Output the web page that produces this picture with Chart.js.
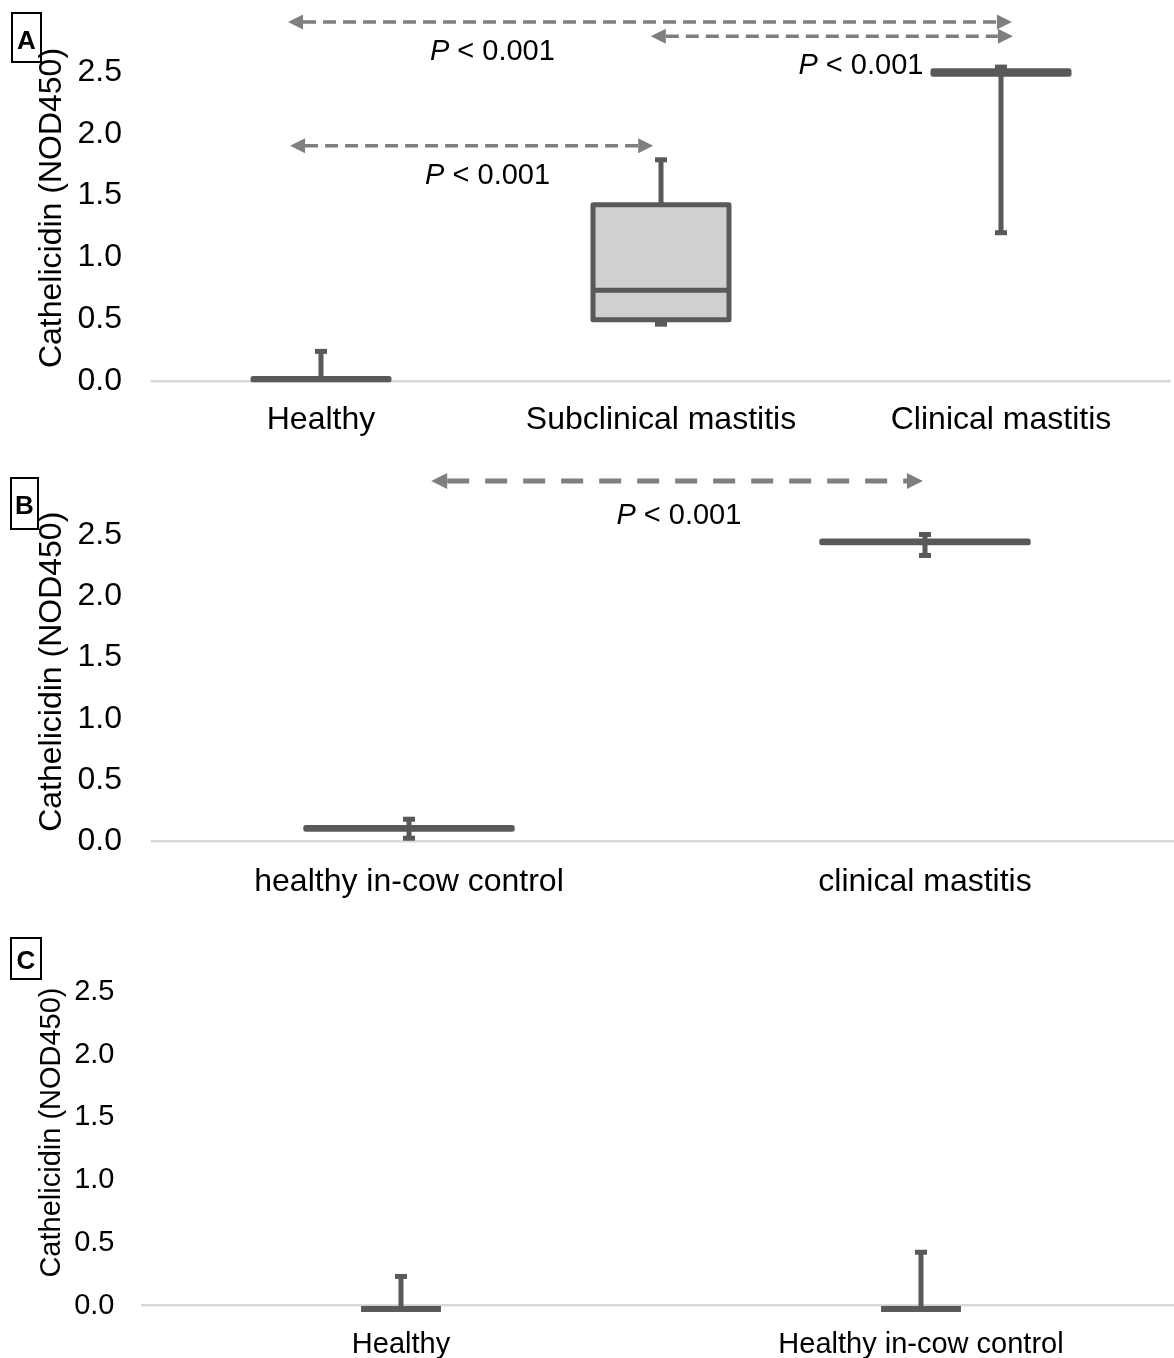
<!DOCTYPE html>
<html>
<head>
<meta charset="utf-8">
<title>Cathelicidin box plots</title>
<script src="https://cdn.jsdelivr.net/npm/chart.js@4.4.0/dist/chart.umd.min.js"></script>
<style>
  html, body { margin: 0; padding: 0; background: #fff; overflow: hidden; width: 1174px; height: 1358px; }
  canvas { position: absolute; left: 0; }
  .tag {
    position: absolute; box-sizing: border-box; border: 2px solid #000;
    font: bold 26px "Liberation Sans", Arial, sans-serif; line-height: 26px;
    text-align: center; color: #000;
  }
</style>
</head>
<body>
<canvas id="chartA" style="top:0"></canvas>
<canvas id="chartB" style="top:450px"></canvas>
<canvas id="chartC" style="top:910px"></canvas>

<div class="tag" style="left:11px; top:12px; width:31px; height:51px; padding-top:13px;">A</div>
<div class="tag" style="left:10px; top:477px; width:29px; height:53px; padding-top:13px;">B</div>
<div class="tag" style="left:10px; top:937px; width:32px; height:43px; padding-top:8px;">C</div>

<script>
// ---- panel A: healthy vs subclinical vs clinical quarters ----
const groupsA = ['Healthy', 'Subclinical mastitis', 'Clinical mastitis'];
const lowA    = [0.01, 0.46, 1.20];
const q1A     = [0.01, 0.495, 2.483];
const medianA = [0.015, 0.734, 2.496];
const q3A     = [0.02, 1.426, 2.51];
const highA   = [0.24, 1.79, 2.54];

// ---- panel B: in-cow control vs clinical mastitis ----
const groupsB = ['healthy in-cow control', 'clinical mastitis'];
const lowB    = [0.028, 2.333];
const q1B     = [0.102, 2.437];
const medianB = [0.109, 2.444];
const q3B     = [0.116, 2.451];
const highB   = [0.183, 2.504];

// ---- panel C: healthy vs in-cow control ----
const groupsC = ['Healthy', 'Healthy in-cow control'];
const lowC    = [-0.032, -0.032];
const q1C     = [-0.032, -0.032];
const medianC = [-0.026, -0.026];
const q3C     = [-0.02, -0.02];
const highC   = [0.233, 0.426];

const yTicks = { min: 0, max: 2.5, step: 0.5 };
const pValue = '< 0.001';
const yTitle = 'Cathelicidin (NOD450)';

const FONT = '"Liberation Sans", Arial, sans-serif';
const LINE = '#595959';

// box outlines, medians and whiskers drawn on top of the filled bars
const boxPlugin = {
  id: 'boxes',
  afterDatasetsDraw(chart) {
    const s = chart.options.plugins.boxes;
    const y = chart.scales.y;
    const ctx = chart.ctx;
    ctx.save();
    ctx.strokeStyle = LINE;
    ctx.fillStyle = LINE;
    chart.getDatasetMeta(0).data.forEach((bar, i) => {
      const top = y.getPixelForValue(s.q3[i]);
      const bot = y.getPixelForValue(s.q1[i]);
      const mid = y.getPixelForValue(s.median[i]);
      const hi = y.getPixelForValue(s.high[i]);
      const lo = y.getPixelForValue(s.low[i]);
      const half = bar.width / 2;

      ctx.lineWidth = 5;
      ctx.lineCap = 'butt';
      ctx.beginPath();
      if (s.high[i] > s.q3[i]) { ctx.moveTo(bar.x, top); ctx.lineTo(bar.x, hi); }
      if (s.low[i] < s.q1[i]) { ctx.moveTo(bar.x, bot); ctx.lineTo(bar.x, lo); }
      ctx.stroke();
      if (s.high[i] > s.q3[i]) ctx.fillRect(bar.x - 6, hi - 2.5, 12, 5);
      if (s.low[i] < s.q1[i]) ctx.fillRect(bar.x - 6, lo - 2.5, 12, 5);

      ctx.lineWidth = s.lineWidth;
      ctx.lineJoin = s.join;
      ctx.strokeRect(bar.x - half, top, bar.width, bot - top);
      ctx.beginPath();
      ctx.moveTo(bar.x - half, mid);
      ctx.lineTo(bar.x + half, mid);
      ctx.stroke();
    });
    ctx.restore();
  }
};

// dashed double-headed comparison arrows with their P labels
const bracketPlugin = {
  id: 'brackets',
  afterDraw(chart) {
    const s = chart.options.plugins.brackets;
    if (!s.arrows) return;
    const { ctx } = chart;
    const x = chart.scales.x, y = chart.scales.y;
    ctx.save();
    ctx.strokeStyle = '#7f7f7f';
    ctx.fillStyle = '#7f7f7f';
    ctx.lineWidth = s.width;
    s.arrows.forEach(a => {
      const x1 = x.getPixelForValue(a.from), x2 = x.getPixelForValue(a.to);
      const py = y.getPixelForValue(a.level);
      ctx.setLineDash(s.dash);
      ctx.beginPath();
      ctx.moveTo(x1 + s.head, py);
      ctx.lineTo(x2 - s.head, py);
      ctx.stroke();
      ctx.setLineDash([]);
      ctx.beginPath();
      ctx.moveTo(x1, py); ctx.lineTo(x1 + s.head, py - s.headHalf); ctx.lineTo(x1 + s.head, py + s.headHalf);
      ctx.closePath();
      ctx.moveTo(x2, py); ctx.lineTo(x2 - s.head, py - s.headHalf); ctx.lineTo(x2 - s.head, py + s.headHalf);
      ctx.closePath();
      ctx.fill();
    });
    ctx.fillStyle = '#000';
    ctx.textBaseline = 'middle';
    ctx.textAlign = 'left';
    s.labels.forEach(l => {
      const cx = x.getPixelForValue(l.at), cy = y.getPixelForValue(l.level);
      ctx.font = 'italic ' + s.fontSize + 'px ' + FONT;
      const wP = ctx.measureText('P').width;
      ctx.font = s.fontSize + 'px ' + FONT;
      const rest = ' ' + pValue;
      const wR = ctx.measureText(rest).width;
      const x0 = cx - (wP + wR) / 2;
      ctx.font = 'italic ' + s.fontSize + 'px ' + FONT;
      ctx.fillText('P', x0, cy);
      ctx.font = s.fontSize + 'px ' + FONT;
      ctx.fillText(rest, x0 + wP, cy);
    });
    ctx.restore();
  }
};

function makeChart(id, p) {
  const canvas = document.getElementById(id);
  canvas.width = p.w;
  canvas.height = p.h;
  const font = { family: FONT, size: p.fontSize };
  return new Chart(canvas, {
    type: 'bar',
    data: {
      labels: p.labels,
      datasets: [{
        data: p.q1.map((v, i) => [v, p.q3[i]]),
        backgroundColor: p.fill,
        borderWidth: 0,
        barPercentage: p.barPct,
        categoryPercentage: 1
      }]
    },
    options: {
      responsive: false,
      animation: false,
      layout: { padding: { top: p.padTop, right: 3, bottom: 0, left: 0 } },
      plugins: {
        legend: { display: false },
        tooltip: { enabled: false },
        boxes: { q1: p.q1, q3: p.q3, median: p.median, low: p.low, high: p.high, lineWidth: p.boxLine, join: p.join },
        brackets: p.brackets || {}
      },
      scales: {
        x: {
          grid: { display: false, drawTicks: false },
          border: { display: false },
          ticks: { color: '#000', font: font, padding: p.xPad, maxRotation: 0, autoSkip: false },
          afterFit(scale) { scale.height = p.xHeight; }
        },
        y: {
          min: p.min,
          max: p.max,
          grid: {
            color: c => (c.tick && c.tick.value === 0 ? '#d9d9d9' : 'rgba(0,0,0,0)'),
            lineWidth: 2.5,
            drawTicks: false,
            tickLength: 0
          },
          border: { display: false },
          ticks: {
            stepSize: yTicks.step,
            includeBounds: false,
            color: '#000',
            font: font,
            padding: p.yPad,
            callback: v => (v >= yTicks.min && v <= yTicks.max ? v.toFixed(1) : '')
          },
          title: {
            display: true,
            text: yTitle,
            color: '#000',
            font: font,
            padding: { top: p.titlePad, bottom: 0 }
          },
          afterFit(scale) {
            // fixed axis width; the plot area bounds come from layout padding only
            scale.width = p.yWidth;
            scale.paddingTop = 0;
            scale.paddingBottom = 0;
          }
        }
      }
    },
    plugins: [boxPlugin, bracketPlugin]
  });
}

makeChart('chartA', {
  w: 1174, h: 450, labels: groupsA,
  q1: q1A, q3: q3A, median: medianA, low: lowA, high: highA,
  fill: '#d0d0d0', barPct: 0.4, boxLine: 5, join: 'round',
  min: -0.05, max: 2.85, padTop: 28.8, xHeight: 62.8, xPad: 14,
  yWidth: 151, yPad: 29, titlePad: 32.5, fontSize: 32,
  brackets: {
    width: 3.5, dash: [13, 7], head: 15, headHalf: 7.5, fontSize: 29,
    arrows: [
      { from: -0.097, to: 2.032, level: 2.905 },
      { from: 0.97, to: 2.035, level: 2.79 },
      { from: -0.091, to: 0.977, level: 1.904 }
    ],
    labels: [
      { at: 0.504, level: 2.664 },
      { at: 1.588, level: 2.55 },
      { at: 0.49, level: 1.66 }
    ]
  }
});

makeChart('chartB', {
  w: 1186, h: 460, labels: groupsB,
  q1: q1B, q3: q3B, median: medianB, low: lowB, high: highB,
  fill: '#d0d0d0', barPct: 0.4, boxLine: 5, join: 'round',
  min: -0.05, max: 2.82, padTop: 45.7, xHeight: 62.2, xPad: 15.5,
  yWidth: 151, yPad: 29, titlePad: 32.5, fontSize: 32,
  brackets: {
    width: 5, dash: [22, 16], head: 16, headHalf: 8, fontSize: 29,
    arrows: [{ from: 0.043, to: 0.996, level: 2.94 }],
    labels: [{ at: 0.523, level: 2.654 }]
  }
});

makeChart('chartC', {
  w: 1184, h: 448, labels: groupsC,
  q1: q1C, q3: q3C, median: medianC, low: lowC, high: highC,
  fill: LINE, barPct: 0.145, boxLine: 4.5, join: 'miter',
  min: -0.1, max: 2.86, padTop: 36.8, xHeight: 39.75, xPad: 9,
  yWidth: 141, yPad: 26.5, titlePad: 34.6, fontSize: 29
});
</script>
</body>
</html>
